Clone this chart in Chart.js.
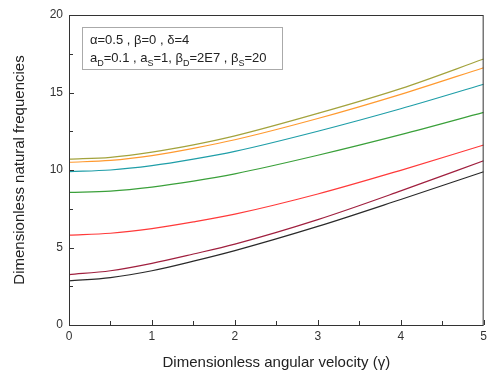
<!DOCTYPE html>
<html>
<head>
<meta charset="utf-8">
<script src="https://cdn.jsdelivr.net/npm/chart.js@4"></script>
<style>
  html, body { margin: 0; padding: 0; background: #fff; }
  #wrap { width: 491px; height: 372px; }
</style>
</head>
<body>
<div id="wrap"><canvas id="chart"></canvas></div>
<script>
// values
const gamma = [0, 0.5, 1, 1.5, 2, 3, 4, 5];
const mode7 = [10.7, 10.82, 11.15, 11.62, 12.2, 13.65, 15.25, 17.16];
const mode6 = [10.5, 10.62, 10.93, 11.4, 11.95, 13.32, 14.88, 16.6];
const mode5 = [9.9, 10.0, 10.28, 10.7, 11.2, 12.5, 13.95, 15.53];
const mode4 = [8.55, 8.64, 8.9, 9.28, 9.75, 10.95, 12.28, 13.72];
const mode3 = [5.8, 5.92, 6.22, 6.65, 7.15, 8.45, 9.98, 11.61];
const mode2 = [3.25, 3.5, 3.98, 4.58, 5.22, 6.8, 8.65, 10.6];
const mode1 = [2.85, 3.06, 3.5, 4.12, 4.8, 6.36, 8.1, 9.89];
const xTicks = [0, 1, 2, 3, 4, 5];
const yTicks = [0, 5, 10, 15, 20];

const series = [
  { data: mode7, color: "#a3a33d" },
  { data: mode6, color: "#ff9a30" },
  { data: mode5, color: "#1f9ea8" },
  { data: mode4, color: "#3aa03a" },
  { data: mode3, color: "#ff3a3a" },
  { data: mode2, color: "#a0203f" },
  { data: mode1, color: "#2a2a2a" }
];

// frame + inward ticks on left and bottom
const framePlugin = {
  id: "frame",
  afterDraw(chart) {
    const { ctx, chartArea: a, scales } = chart;
    ctx.save();
    ctx.strokeStyle = "#333";
    ctx.lineWidth = 1;
    ctx.strokeRect(a.left + 0.5, a.top + 0.5, a.right - a.left - 1, a.bottom - a.top);
    ctx.beginPath();
    for (let v = 0; v <= 5.001; v += 0.5) {
      const px = Math.round(scales.x.getPixelForValue(v)) + 0.5;
      const len = Math.abs(v % 1) < 0.01 ? 5 : 4;
      ctx.moveTo(px, a.bottom);
      ctx.lineTo(px, a.bottom - len);
    }
    for (let v = 0; v <= 20.001; v += 2.5) {
      const py = Math.round(scales.y.getPixelForValue(v)) + 0.5;
      const len = Math.abs(v % 5) < 0.01 ? 5 : 4;
      ctx.moveTo(a.left, py);
      ctx.lineTo(a.left + len, py);
    }
    ctx.stroke();

    // parameter box
    const bx = 82, by = 27, bw = 200, bh = 42;
    ctx.strokeStyle = "#aaa";
    ctx.strokeRect(bx + 0.5, by + 0.5, bw, bh);
    ctx.fillStyle = "#222";
    ctx.textBaseline = "alphabetic";
    const f = "13px 'Liberation Sans', Arial, sans-serif";
    const fs = "9px 'Liberation Sans', Arial, sans-serif";
    const runs = (parts, x, y) => {
      parts.forEach(p => {
        ctx.font = p.sub ? fs : f;
        ctx.fillText(p.t, x, p.sub ? y + 4 : y);
        x += ctx.measureText(p.t).width;
      });
    };
    runs([{ t: "\u03b1=0.5 , \u03b2=0 , \u03b4=4" }], bx + 8, by + 17);
    runs([
      { t: "a" }, { t: "D", sub: true }, { t: "=0.1 , a" }, { t: "S", sub: true },
      { t: "=1, \u03b2" }, { t: "D", sub: true }, { t: "=2E7 , \u03b2" }, { t: "S", sub: true },
      { t: "=20" }
    ], bx + 8, by + 35);
    ctx.restore();
  }
};

new Chart(document.getElementById("chart"), {
  type: "line",
  data: {
    datasets: series.map(s => ({
      data: gamma.map((g, i) => ({ x: g, y: s.data[i] })),
      borderColor: s.color,
      borderWidth: 1.2,
      pointRadius: 0,
      fill: false,
      cubicInterpolationMode: "monotone"
    }))
  },
  options: {
    responsive: true,
    maintainAspectRatio: false,
    animation: false,
    layout: { padding: { top: 15, right: 2, left: 0, bottom: 0 } },
    plugins: { legend: { display: false }, tooltip: { enabled: false } },
    scales: {
      x: {
        type: "linear", min: 0, max: 5,
        afterBuildTicks: s => { s.ticks = xTicks.map(v => ({ value: v })); },
        afterFit: s => { s.height = 47; },
        grid: { display: false, drawTicks: false },
        border: { display: false },
        ticks: { color: "#333", padding: 4, font: { size: 12, family: "'Liberation Sans', Arial" } },
        title: { display: true, text: "Dimensionless angular velocity (\u03b3)", color: "#222",
                 padding: { top: 4, bottom: 0 }, font: { size: 15, family: "'Liberation Sans', Arial" } }
      },
      y: {
        type: "linear", min: 0, max: 20,
        afterBuildTicks: s => { s.ticks = yTicks.map(v => ({ value: v })); },
        afterFit: s => { s.width = 69; },
        grid: { display: false, drawTicks: false },
        border: { display: false },
        ticks: { color: "#333", padding: 6, font: { size: 12, family: "'Liberation Sans', Arial" } },
        title: { display: true, text: "Dimensionless natural frequencies", color: "#222",
                 padding: { top: 11, bottom: 0 }, font: { size: 15, family: "'Liberation Sans', Arial" } }
      }
    }
  },
  plugins: [framePlugin]
});
</script>
</body>
</html>
